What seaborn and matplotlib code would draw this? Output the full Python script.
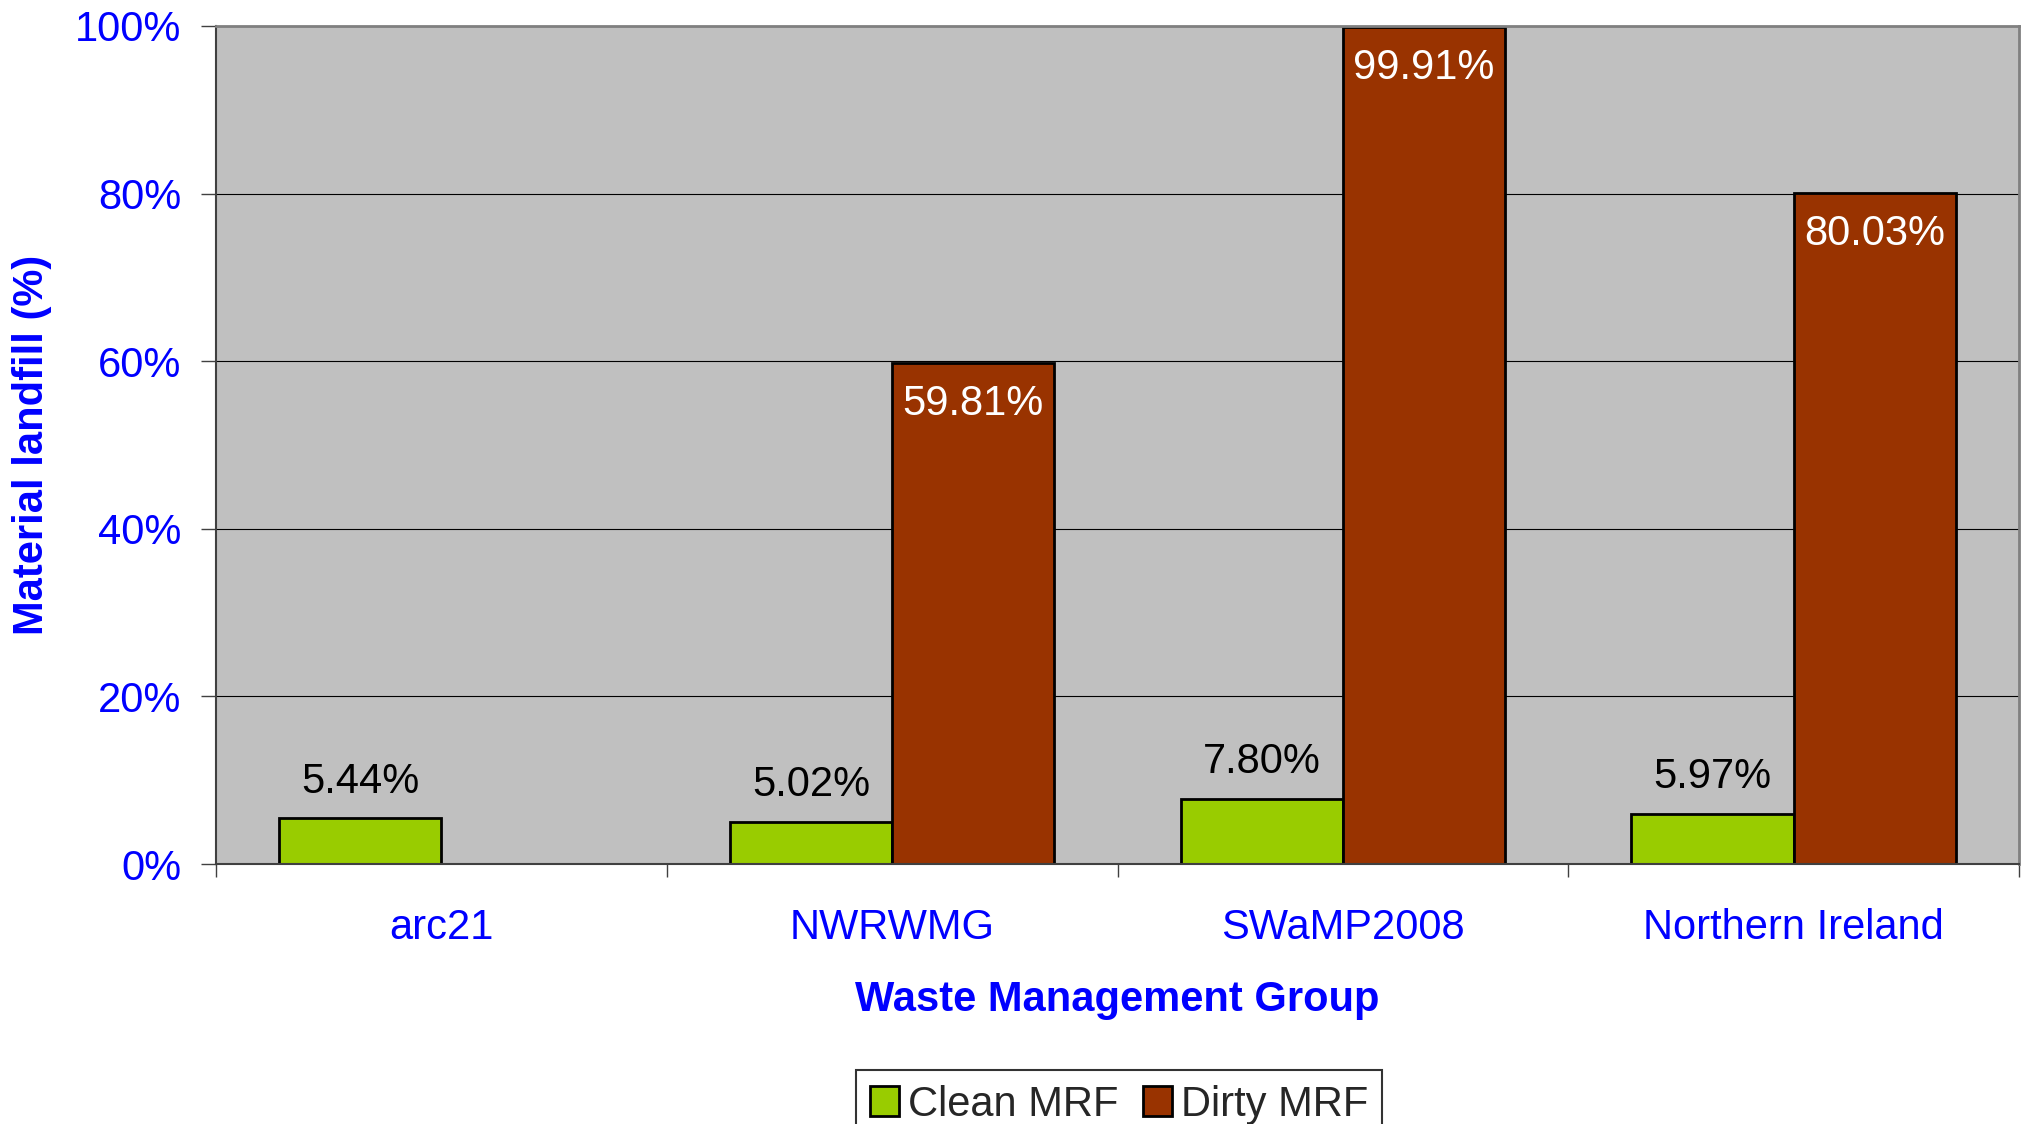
import numpy as np
import pandas as pd
import matplotlib
matplotlib.use("Agg")
import matplotlib.pyplot as plt
import seaborn as sns
from matplotlib.ticker import PercentFormatter, FixedLocator

# Data
groups = ['arc21', 'NWRWMG', 'SWaMP2008', 'Northern Ireland']
clean_mrf = [5.44, 5.02, 7.80, 5.97]
dirty_mrf = [np.nan, 59.81, 99.91, 80.03]
series = ['Clean MRF', 'Dirty MRF']

df = pd.DataFrame({
    'group': groups * 2,
    'type': [series[0]] * len(groups) + [series[1]] * len(groups),
    'value': clean_mrf + dirty_mrf,
})

sns.set_style("white")
plt.rcParams['font.family'] = ['Liberation Sans', 'DejaVu Sans']

blue = '#0000FF'
green = '#99CC00'
brown = '#993300'

fig = plt.figure(figsize=(20.31, 11.24), dpi=100)
ax = fig.add_axes([0.1064, 0.2313, 0.8877, 0.7456])
ax.set_facecolor('#C0C0C0')

sns.barplot(data=df, x='group', y='value', hue='type', palette=[green, brown],
            width=0.72, saturation=1, edgecolor='black', linewidth=2,
            ax=ax, legend=True)

# value labels: clean above the bar, dirty inside the top
for cont, col in zip(ax.containers, ['black', 'white']):
    labels = [f'{v:.2f}%' for v in cont.datavalues]
    if col == 'black':
        ax.bar_label(cont, labels=labels, padding=12, fontsize=30, color=col)
    else:
        ax.bar_label(cont, labels=labels, padding=-44, fontsize=30, color=col)

ax.set_ylim(0, 100)
ax.set_xlim(-0.5, len(groups) - 0.5)
ax.yaxis.set_major_locator(FixedLocator([0, 20, 40, 60, 80, 100]))
ax.yaxis.set_major_formatter(PercentFormatter(decimals=0))
ax.grid(axis='y', color='black', linewidth=0.8)
ax.set_axisbelow(True)

# Excel style: ticks on category boundaries, labels in the middle
ax.set_xticks(np.arange(-0.5, len(groups), 1.0))
ax.set_xticklabels([])
ax.set_xticks(np.arange(len(groups)), minor=True)
ax.set_xticklabels(groups, minor=True)
ax.tick_params(axis='x', which='major', length=9, width=1, color='#404040', bottom=True)
ax.tick_params(axis='x', which='minor', length=0, pad=32, labelsize=30, labelcolor=blue)
ax.tick_params(axis='y', length=11, width=1, color='#404040', left=True, pad=14,
               labelsize=30, labelcolor=blue)

for s in ['left', 'bottom']:
    ax.spines[s].set_color('#404040')
    ax.spines[s].set_linewidth(1.5)
for s in ['top', 'right']:
    ax.spines[s].set_color('#808080')
    ax.spines[s].set_linewidth(2)

ax.set_xlabel('Waste Management Group', fontsize=30, fontweight='bold', color=blue, va='center')
ax.xaxis.set_label_coords(0.5, -0.162)
ax.set_ylabel('Material landfill (%)', fontsize=30, fontweight='bold', color=blue, va='center')
ax.yaxis.set_label_coords(-0.102, 0.5)

ax.get_legend().remove()
handles, _ = ax.get_legend_handles_labels()
leg = fig.legend(handles, series, loc='upper center', bbox_to_anchor=(0.551, 0.048),
                 ncol=2, fontsize=30, frameon=True, fancybox=False, edgecolor='black',
                 handlelength=0.7, handleheight=0.7, handletextpad=0.2,
                 columnspacing=0.6, borderpad=0.35, borderaxespad=0)
leg.get_frame().set_linewidth(1.5)

fig.savefig('out.png', dpi=100)
